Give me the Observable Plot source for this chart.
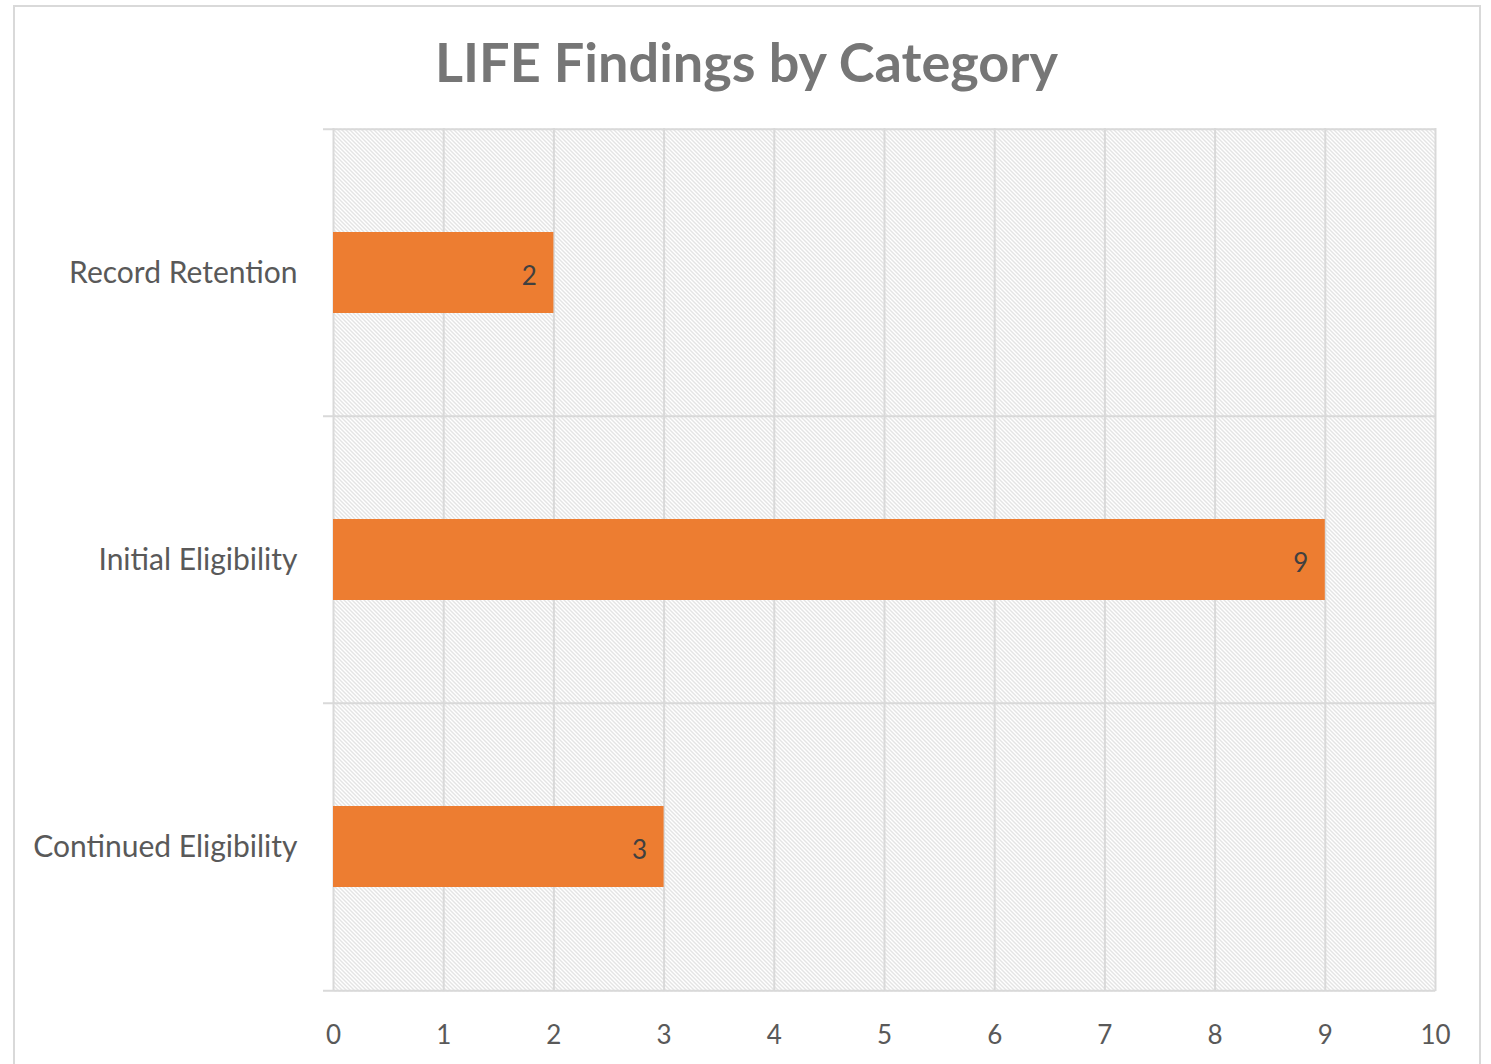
<!DOCTYPE html>
<html>
<head>
<meta charset="utf-8">
<script src="https://cdn.jsdelivr.net/npm/d3@7"></script>
<script src="https://cdn.jsdelivr.net/npm/@observablehq/plot@0.6"></script>
<style>
  html, body { margin: 0; padding: 0; background: #fff; }
  #wrap { position: relative; width: 1491px; height: 1064px; overflow: hidden; }
  #border { position: absolute; left: 13px; top: 5px; width: 1468px; height: 1100px; border: 2px solid #d9d9d9; box-sizing: border-box; }
  #title { position: absolute; left: 13px; width: 1467px; top: 29px; text-align: center;
    font-family: Lato, "Open Sans", sans-serif; font-weight: bold; font-size: 54px; color: #767676; }
  #chart { position: absolute; left: 0; top: 0; }
</style>
</head>
<body>
<div id="wrap">
  <div id="border"></div>
  <div id="title">LIFE Findings by Category</div>
  <div id="chart"></div>
</div>
<script>
const title = "LIFE Findings by Category";
const categories = ["Record Retention", "Initial Eligibility", "Continued Eligibility"];
const values = [2, 9, 3];
const xTicks = [0, 1, 2, 3, 4, 5, 6, 7, 8, 9, 10];

const data = categories.map((c, i) => ({category: c, value: values[i]}));

const W = 1491, H = 1064;
const mTop = 128, mBottom = 73, mLeft = 333, mRight = 56;
const bw = (H - mTop - mBottom) / categories.length;
const grid = "#d9d9d9";

const plot = Plot.plot({
  width: W,
  height: H,
  marginTop: mTop,
  marginBottom: mBottom,
  marginLeft: mLeft,
  marginRight: mRight,
  style: {fontFamily: "Lato, 'Open Sans', sans-serif", background: "transparent", overflow: "visible"},
  x: {domain: [0, 10], ticks: xTicks, label: null},
  y: {domain: categories, padding: 0, label: null},
  marks: [
    Plot.frame({fill: "url(#hatch)", stroke: null}),
    Plot.ruleX(xTicks, {stroke: grid, strokeWidth: 2}),
    Plot.ruleY(categories, {y: d => d, dy: -bw / 2, stroke: grid, strokeWidth: 2, insetLeft: -10}),
    Plot.ruleY(categories.slice(-1), {y: d => d, dy: bw / 2, stroke: grid, strokeWidth: 2, insetLeft: -10}),
    Plot.barX(data, {x: "value", y: "category", fill: "#ED7D31", insetTop: 103, insetBottom: 103}),
    Plot.text(data, {x: "value", y: "category", text: d => String(d.value), textAnchor: "end", dx: -17, dy: 4,
      fill: "#404040", fontSize: 26}),
    Plot.axisY({tickSize: 0, tickPadding: 36, fontSize: 30, color: "#595959", label: null}),
    Plot.axisX({ticks: xTicks, tickSize: 0, tickPadding: 34, fontSize: 26, color: "#595959", label: null})
  ]
});

const svg = d3.select(plot);
const defs = svg.insert("defs", ":first-child");
const pat = defs.append("pattern").attr("id", "hatch").attr("patternUnits", "userSpaceOnUse")
  .attr("width", 4).attr("height", 4);
pat.append("rect").attr("width", 4).attr("height", 4).attr("fill", "#fff");
pat.append("path").attr("d", "M-1,-1 L5,5 M3,-1 L5,1 M-1,3 L1,5")
  .attr("stroke", "#c8c8c8").attr("stroke-width", 1);
document.getElementById("chart").appendChild(plot);
</script>
</body>
</html>
